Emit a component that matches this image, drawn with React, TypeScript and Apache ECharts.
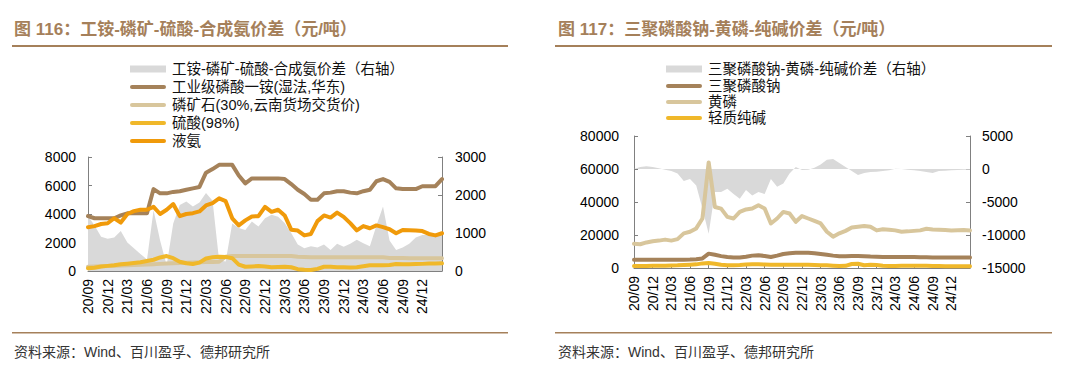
import React, { useEffect, useRef } from "react";
import * as echarts from "echarts";

const months = [
  "20/09","20/10","20/11","20/12",
  "21/01","21/02","21/03","21/04","21/05","21/06","21/07","21/08","21/09","21/10","21/11","21/12",
  "22/01","22/02","22/03","22/04","22/05","22/06","22/07","22/08","22/09","22/10","22/11","22/12",
  "23/01","23/02","23/03","23/04","23/05","23/06","23/07","23/08","23/09","23/10","23/11","23/12",
  "24/01","24/02","24/03","24/04","24/05","24/06","24/07","24/08","24/09","24/10","24/11","24/12",
  "25/01","25/02","25/03",
];

// 图116
const leftNames = [
  "工铵-磷矿-硫酸-合成氨价差（右轴）",
  "工业级磷酸一铵(湿法,华东)",
  "磷矿石(30%,云南货场交货价)",
  "硫酸(98%)",
  "液氨",
];
const leftSpread = [1450,1200,900,850,880,1050,750,600,450,300,1600,800,150,1250,1740,1830,1700,1800,2050,1850,280,250,1250,1130,1080,1300,1170,1390,1480,1430,1260,1000,700,600,650,620,700,550,720,640,720,820,730,650,1200,1700,800,550,620,720,880,950,950,950,950];
const mapPrice = [3850,3700,3700,3700,3700,3900,4050,4050,4050,4050,5750,5450,5450,5550,5600,5700,5800,5900,6900,7150,7450,7450,7450,6700,6150,6500,6500,6500,6500,6500,6450,6100,5700,5400,5000,5000,5450,5500,5600,5600,5500,5450,5600,5700,6300,6450,6250,5800,5750,5750,5750,5950,5950,5950,6450];
const rockPrice = [300,310,330,350,370,390,400,420,440,450,470,500,530,550,560,580,600,620,630,640,650,1000,1050,1050,1050,1050,1050,1050,1050,1050,1050,1050,1000,980,970,970,970,970,970,970,970,970,970,970,970,960,920,910,910,900,900,900,900,900,900];
const acidPrice = [190,230,320,360,400,470,510,560,620,700,790,950,1050,900,650,540,490,590,880,960,1000,990,900,450,300,320,350,320,270,280,300,260,130,80,70,150,300,300,270,260,250,260,330,400,400,400,420,490,470,480,490,500,520,530,540];
const ammoniaPrice = [3075,3150,3300,3350,3700,3400,4000,4200,4300,4300,4500,4000,4300,4700,3850,4000,4060,4180,4600,4770,5100,4900,3700,3200,3550,3830,3850,4500,4150,4300,3900,2900,2840,2500,2600,3500,3900,3750,4100,3800,3360,2850,3150,3000,3200,3075,2930,2650,2880,2860,2840,2800,2600,2500,2650];

// 图117
const rightNames = [
  "三聚磷酸钠-黄磷-纯碱价差（右轴）",
  "三聚磷酸钠",
  "黄磷",
  "轻质纯碱",
];
const rightSpread = [0,300,400,300,100,-100,-300,-700,-1800,-1500,-2500,-6000,-9800,-3500,-3500,-3000,-3800,-4500,-3200,-4000,-3500,-3800,-1500,-2700,-2200,-700,300,-150,-100,200,700,1400,1500,900,300,-300,-900,-600,-450,-400,-300,-200,50,0,-100,-200,-300,-450,-600,-300,-250,-200,-150,-100,-100];
const stppPrice = [5000,5000,5000,5000,5000,5000,5000,5000,5000,5100,5300,5800,8700,8000,7200,6700,6400,6300,6800,7500,7700,7300,6700,7500,8500,9000,9200,9300,9200,9000,8500,8000,7500,7100,7100,7200,7300,7100,6900,6800,6700,6700,6700,6600,6600,6600,6500,6500,6400,6400,6300,6300,6300,6300,6300];
const yellowPPrice = [14700,14400,15500,16200,16600,17200,16600,17500,21000,22000,24000,30000,64000,37000,36000,31000,30000,34000,35500,36000,38000,36000,27000,30000,34000,33000,28000,31500,30000,28500,27000,22000,19000,21000,22500,24500,25000,25500,25000,22800,23500,23200,22800,22000,22200,22500,22800,23800,23300,23200,23000,22800,22900,23000,22800];
const sodaPrice = [1200,1200,1250,1300,1300,1400,1500,1600,1800,2000,2200,2800,3000,2600,2000,1700,1600,1800,2100,2200,2200,2100,2000,2000,2000,2000,2000,2000,1900,1800,1700,1600,1400,1200,1300,2400,2600,1700,2000,1800,1400,1200,1200,1300,1300,1400,1400,1300,1200,1200,1100,1100,1000,1000,1000];

const leftTitle = "图 116：工铵-磷矿-硫酸-合成氨价差（元/吨）";
const rightTitle = "图 117：三聚磷酸钠-黄磷-纯碱价差（元/吨）";
const sourceText = "资料来源：Wind、百川盈孚、德邦研究所";

const GRAY = "#D9D9D9";
const BROWN = "#A5825A";
const TAN = "#D8C69C";
const YELLOW = "#F0B82A";
const ORANGE = "#F09A0A";
const TITLE = "#A5805A";
const AXIS = "#808080";
const NUMFONT = "Liberation Sans, Arial, sans-serif";
const CJKFONT = "Liberation Sans, Noto Sans CJK SC, sans-serif";

export default function App() {
  const ref = useRef<HTMLDivElement>(null);
  useEffect(() => {
    if (!ref.current) return;
    const chart = echarts.init(ref.current, undefined, { renderer: "svg" });

    const showQuarter = (idx: number) => idx % 3 === 0 && idx < months.length - 1;
    const xAxisBase = (gridIndex: number) => ({
      type: "category",
      gridIndex,
      data: months,
      boundaryGap: false,
      axisLine: { lineStyle: { color: AXIS, width: 1 } },
      axisTick: { show: true, inside: true, length: 3, interval: showQuarter, lineStyle: { color: AXIS } },
      axisLabel: { interval: showQuarter, rotate: 90, fontSize: 14, color: "#000", margin: 8, fontFamily: NUMFONT },
      splitLine: { show: false },
    });
    const yAxisBase = (gridIndex: number, position: string, min: number, max: number, interval: number, margin: number) => ({
      type: "value",
      gridIndex,
      position,
      min,
      max,
      interval,
      axisLine: { show: true, lineStyle: { color: AXIS, width: 1 } },
      axisTick: { show: true, inside: true, length: 4, lineStyle: { color: AXIS } },
      axisLabel: { fontSize: 14, color: "#000", margin, fontFamily: NUMFONT, formatter: (v: number) => String(v) },
      splitLine: { show: false },
    });
    const areaSeries = (name: string, data: number[], xi: number, yi: number) => ({
      name,
      type: "line",
      xAxisIndex: xi,
      yAxisIndex: yi,
      data,
      showSymbol: false,
      symbol: "none",
      lineStyle: { width: 0, opacity: 0 },
      areaStyle: { color: GRAY, opacity: 1 },
      z: 1,
    });
    const lineSeries = (name: string, data: number[], xi: number, yi: number, color: string) => ({
      name,
      type: "line",
      xAxisIndex: xi,
      yAxisIndex: yi,
      data,
      showSymbol: false,
      symbol: "none",
      lineStyle: { width: 4, color, cap: "round", join: "round" },
      z: 3,
    });

    const leftColors = [GRAY, BROWN, TAN, YELLOW, ORANGE];
    const rightColors = [GRAY, BROWN, TAN, YELLOW];
    const leftRows = [69, 87, 105, 123, 141];
    const rightRows = [69, 86, 102, 118];

    const legendGraphics: any[] = [];
    const addLegend = (names: string[], colors: string[], rows: number[], x0: number) => {
      names.forEach((n, i) => {
        const y = rows[i];
        if (i === 0) {
          legendGraphics.push({ type: "rect", shape: { x: x0, y: y - 3.5, width: 36, height: 7 }, style: { fill: colors[i] } });
        } else {
          legendGraphics.push({ type: "line", shape: { x1: x0 + 2, y1: y, x2: x0 + 34, y2: y }, style: { stroke: colors[i], lineWidth: 4, lineCap: "round" } });
        }
        legendGraphics.push({
          type: "text",
          x: x0 + 42,
          y,
          style: { text: n, fontSize: 14.5, fill: "#111", fontFamily: CJKFONT, verticalAlign: "middle", align: "left" },
        });
      });
    };
    addLegend(leftNames, leftColors, leftRows, 130);
    addLegend(rightNames, rightColors, rightRows, 666);

    const option: any = {
      animation: false,
      backgroundColor: "#fff",
      grid: [
        { left: 88, top: 157, width: 354, height: 114 },
        { left: 634, top: 136, width: 336, height: 132 },
      ],
      xAxis: [xAxisBase(0), xAxisBase(1)],
      yAxis: [
        yAxisBase(0, "left", 0, 8000, 2000, 12),
        yAxisBase(0, "right", 0, 3000, 1000, 13),
        yAxisBase(1, "left", 0, 80000, 20000, 15),
        yAxisBase(1, "right", -15000, 5000, 5000, 12),
      ],
      series: [
        areaSeries(leftNames[0], leftSpread, 0, 1),
        lineSeries(leftNames[1], mapPrice, 0, 0, BROWN),
        lineSeries(leftNames[2], rockPrice, 0, 0, TAN),
        lineSeries(leftNames[3], acidPrice, 0, 0, YELLOW),
        lineSeries(leftNames[4], ammoniaPrice, 0, 0, ORANGE),
        areaSeries(rightNames[0], rightSpread, 1, 3),
        lineSeries(rightNames[1], stppPrice, 1, 2, BROWN),
        lineSeries(rightNames[2], yellowPPrice, 1, 2, TAN),
        lineSeries(rightNames[3], sodaPrice, 1, 2, YELLOW),
      ],
      graphic: [
        { type: "text", x: 14, y: 29, style: { text: leftTitle, fontSize: 17, fontWeight: "bold", fill: TITLE, fontFamily: CJKFONT, verticalAlign: "middle" } },
        { type: "text", x: 558, y: 29, style: { text: rightTitle, fontSize: 17, fontWeight: "bold", fill: TITLE, fontFamily: CJKFONT, verticalAlign: "middle" } },
        { type: "rect", shape: { x: 12, y: 45, width: 496, height: 2 }, style: { fill: TITLE } },
        { type: "rect", shape: { x: 555, y: 45, width: 497, height: 2 }, style: { fill: TITLE } },
        { type: "rect", shape: { x: 12, y: 332, width: 496, height: 1.5 }, style: { fill: TITLE } },
        { type: "rect", shape: { x: 555, y: 332, width: 497, height: 1.5 }, style: { fill: TITLE } },
        { type: "text", x: 14, y: 352, style: { text: sourceText, fontSize: 14, fill: "#333", fontFamily: CJKFONT, verticalAlign: "middle" } },
        { type: "text", x: 558, y: 352, style: { text: sourceText, fontSize: 14, fill: "#333", fontFamily: CJKFONT, verticalAlign: "middle" } },
        ...legendGraphics,
      ],
    };
    chart.setOption(option);
    return () => chart.dispose();
  }, []);
  return (
    <div
      ref={ref}
      style={{ position: "absolute", left: 0, top: 0, width: 1080, height: 365, background: "#fff" }}
    />
  );
}
